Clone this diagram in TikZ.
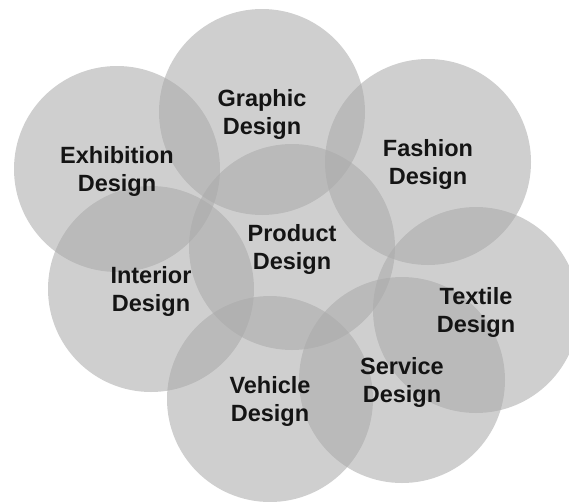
\documentclass[tikz,border=0pt]{standalone}
\usepackage{fontspec}
\setmainfont{Liberation Sans}
\begin{document}
\begin{tikzpicture}[x=1pt,y=-1pt,
  bubble/.style={circle,minimum size=206pt,inner sep=0pt,fill={rgb,255:red,170;green,170;blue,170},fill opacity=0.56},
  lbl/.style={align=center,font=\fontsize{23.5}{28}\selectfont\bfseries,text={rgb,255:red,20;green,20;blue,20},inner sep=0pt}]
\useasboundingbox (0,0) rectangle (569,501);
\node[bubble] (gr) at (262,112) {};
\node[bubble] (ex) at (117,169) {};
\node[bubble] (fa) at (428,162) {};
\node[bubble] (pr) at (292,247) {};
\node[bubble] (in) at (151,289) {};
\node[bubble] (te) at (476,310) {};
\node[bubble] (se) at (402,380) {};
\node[bubble] (ve) at (270,399) {};
\node[lbl] (grt) at ([yshift=-2.5pt]gr.center) {Graphic\\Design};
\node[lbl] (ext) at ([yshift=-2.5pt]ex.center) {Exhibition\\Design};
\node[lbl] (fat) at ([yshift=-2.5pt]fa.center) {Fashion\\Design};
\node[lbl] (prt) at ([yshift=-2.5pt]pr.center) {Product\\Design};
\node[lbl] (int) at ([yshift=-2.5pt]in.center) {Interior\\Design};
\node[lbl] (tet) at ([yshift=-2.5pt]te.center) {Textile\\Design};
\node[lbl] (set) at ([yshift=-2.5pt]se.center) {Service\\Design};
\node[lbl] (vet) at ([yshift=-2.5pt]ve.center) {Vehicle\\Design};
\end{tikzpicture}
\end{document}
